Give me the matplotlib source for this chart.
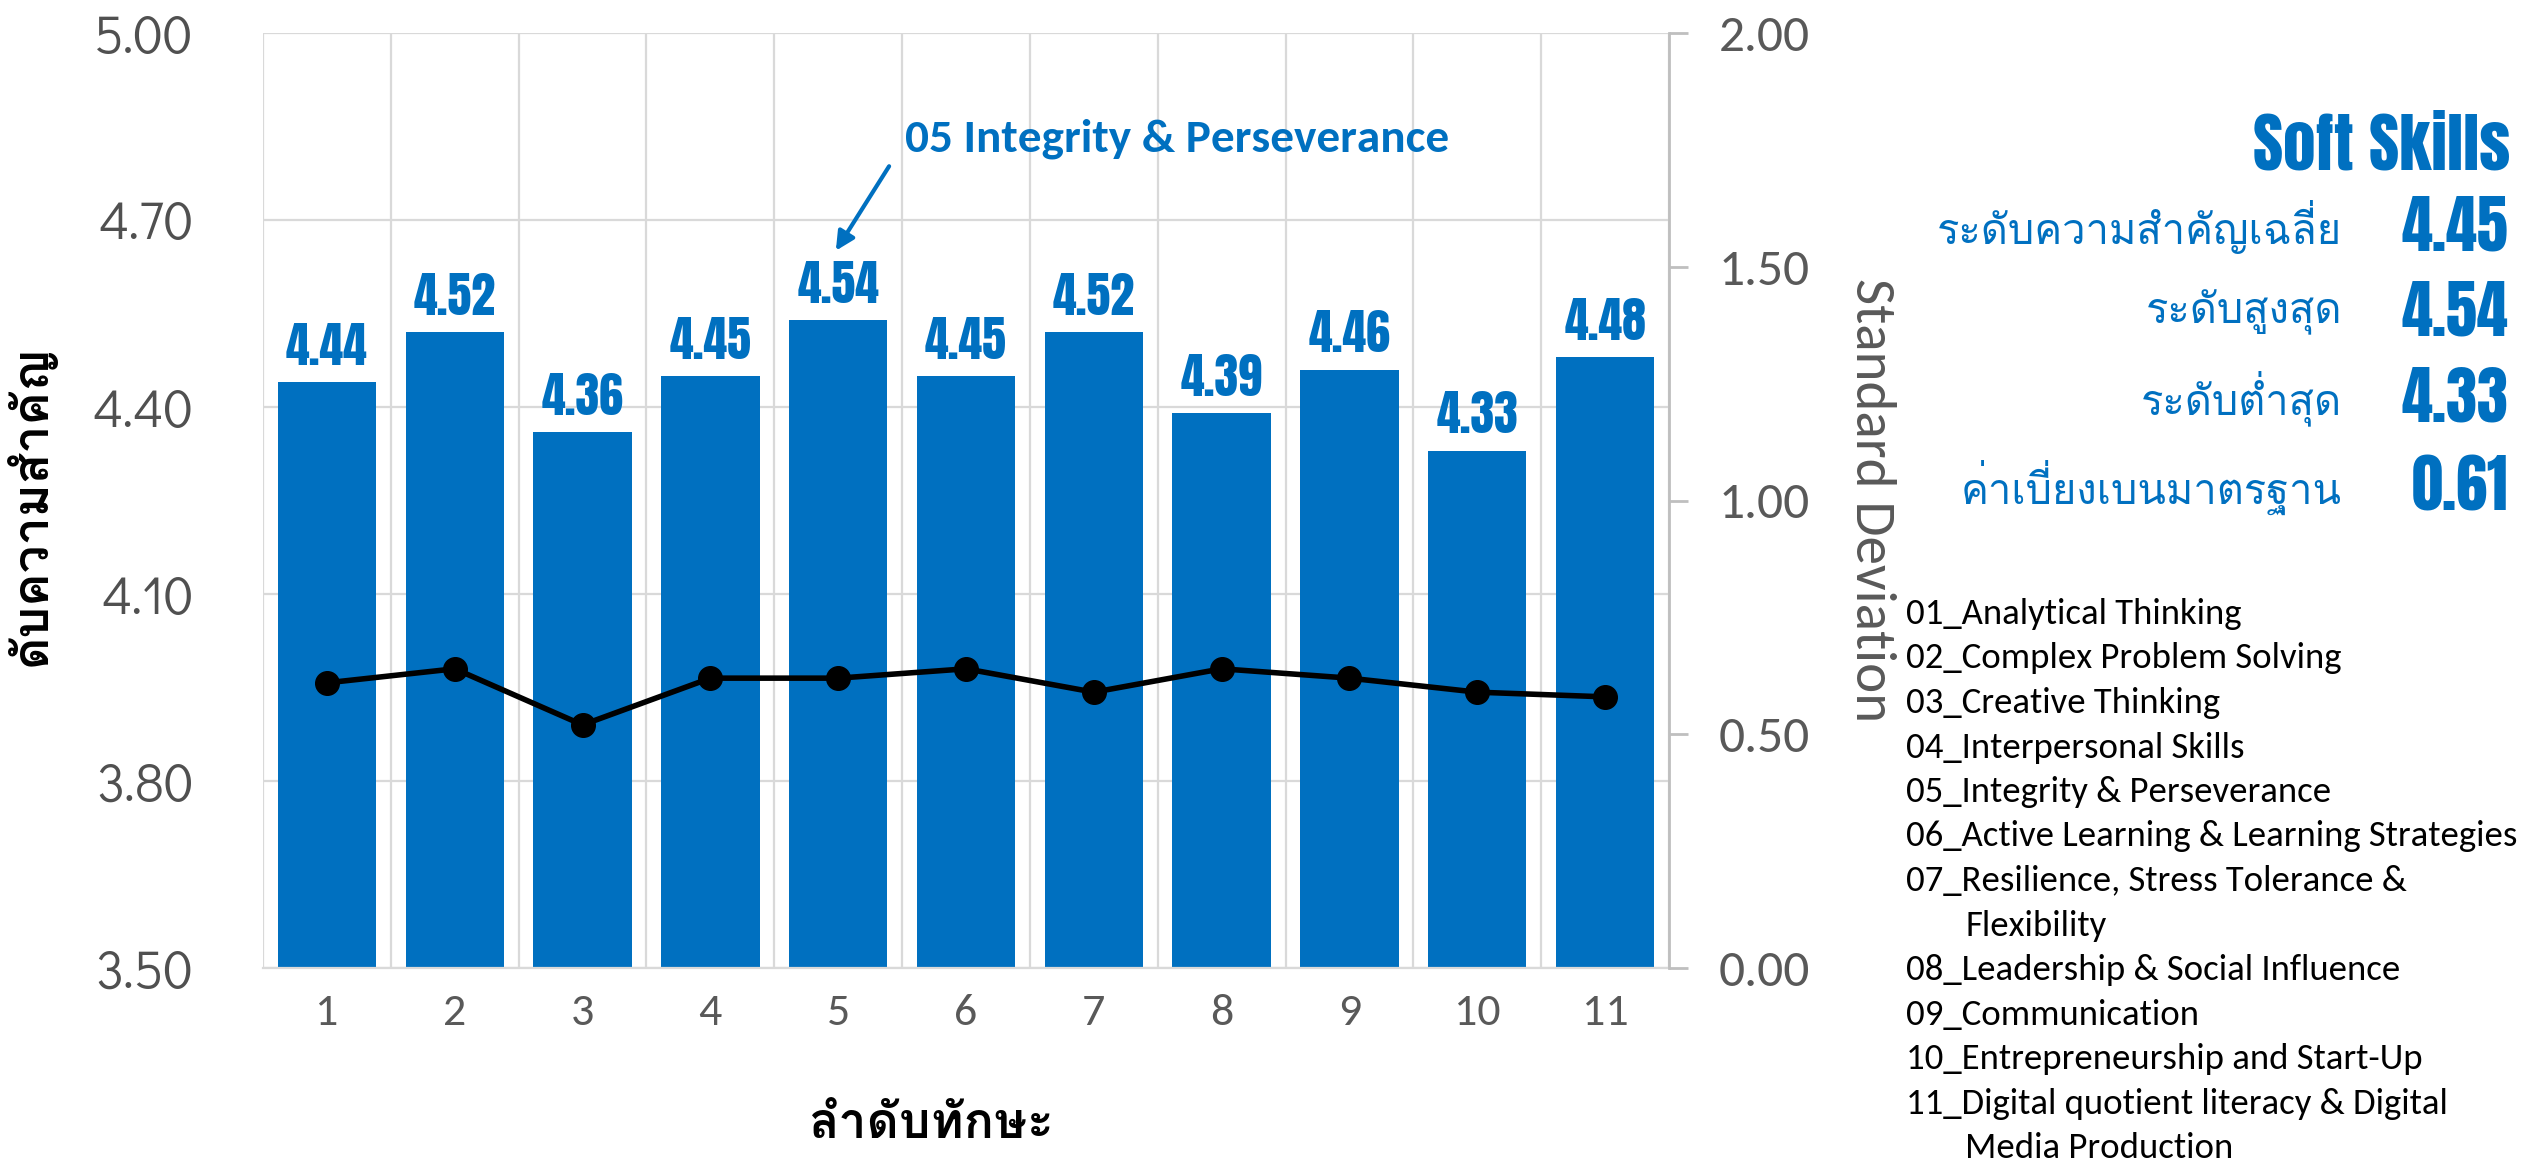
import matplotlib
matplotlib.use("Agg")
import matplotlib.pyplot as plt
from matplotlib import font_manager as fm

skill_no = ["1", "2", "3", "4", "5", "6", "7", "8", "9", "10", "11"]
importance = [4.44, 4.52, 4.36, 4.45, 4.54, 4.45, 4.52, 4.39, 4.46, 4.33, 4.48]
std_dev = [0.61, 0.64, 0.52, 0.62, 0.62, 0.64, 0.59, 0.64, 0.62, 0.59, 0.58]

skill_names = [
    "01_Analytical Thinking",
    "02_Complex Problem Solving",
    "03_Creative Thinking",
    "04_Interpersonal Skills",
    "05_Integrity & Perseverance",
    "06_Active Learning & Learning Strategies",
    "07_Resilience, Stress Tolerance &\nFlexibility",
    "08_Leadership & Social Influence",
    "09_Communication",
    "10_Entrepreneurship and Start-Up",
    "11_Digital quotient literacy & Digital\nMedia Production",
]

stat_labels = ["ระดับความสำคัญเฉลี่ย", "ระดับสูงสุด", "ระดับต่ำสุด", "ค่าเบี่ยงเบนมาตรฐาน"]
stat_values = ["4.45", "4.54", "4.33", "0.61"]
panel_title = "Soft Skills"
highlight_text = "05 Integrity & Perseverance"

BLUE = "#0070C0"
GREY = "#595959"
GRID = "#D9D9D9"
AXIS = "#BFBFBF"

installed = set(f.name for f in fm.fontManager.ttflist)


def pick(*cands):
    for c in cands:
        if c in installed:
            return c
    return "DejaVu Sans"


# Loma puts tone marks high by default, so stacked marks survive without shaping
thai = pick("Loma", "Noto Sans Thai Looped", "Noto Sans Thai")
heavy = pick("Anton", "Oswald", "Roboto Condensed")
calibri = pick("Carlito", "Lato", "Open Sans")
gothic = pick("Didact Gothic", "Questrial", "DejaVu Sans")

W, H = 2529, 1164
fig = plt.figure(figsize=(W / 100, H / 100), dpi=100)
ax = fig.add_axes([263 / W, 1 - 968 / H, (1669 - 263) / W, (968 - 33) / H])
x = list(range(len(skill_no)))

ax.bar(x, [v - 3.5 for v in importance], bottom=3.5, width=0.77, color=BLUE, zorder=2)
for xi, v in zip(x, importance):
    ax.text(xi, v + 0.018, f"{v:.2f}", ha="center", va="bottom", color=BLUE,
            fontsize=34.5, family=heavy, zorder=3)

yt = [3.5, 3.8, 4.1, 4.4, 4.7, 5.0]
ax.set_xlim(-0.5, len(x) - 0.5)
ax.set_ylim(3.5, 5.0)
ax.set_yticks(yt)
ax.set_yticklabels([f"{t:.2f}" for t in yt], family=gothic, fontsize=38, color="#505050")
ax.set_xticks(x)
ax.set_xticklabels(skill_no, family=calibri, fontsize=33, color=GREY)
ax.set_xticks([i - 0.5 for i in range(len(x) + 1)], minor=True)
ax.tick_params(axis="y", length=0, pad=50)
ax.tick_params(axis="x", which="both", length=0, pad=19)
ax.grid(axis="y", which="major", color=GRID, lw=1.6)
ax.grid(axis="x", which="minor", color=GRID, lw=1.6)
ax.set_axisbelow(True)
for s in ["top", "left", "right"]:
    ax.spines[s].set_visible(False)
ax.spines["bottom"].set_color(GRID)
ax.spines["bottom"].set_linewidth(1.6)

ax2 = ax.twinx()
ax2.plot(x, std_dev, color="black", lw=4, marker="o", markersize=17, zorder=4)
st = [0, 0.5, 1.0, 1.5, 2.0]
ax2.set_ylim(0, 2.0)
ax2.set_yticks(st)
ax2.set_yticklabels([f"{t:.2f}" for t in st], family=calibri, fontsize=37)
ax2.tick_params(axis="y", direction="out", length=14, width=2, color=AXIS,
                labelcolor=GREY, pad=22)
for s in ["top", "left", "bottom"]:
    ax2.spines[s].set_visible(False)
ax2.spines["right"].set_color(AXIS)
ax2.spines["right"].set_linewidth(2)

# call-out for the top skill
ax.annotate("", xy=(3.97, 4.647), xytext=(4.41, 4.79),
            arrowprops=dict(arrowstyle="-|>", color=BLUE, lw=3, mutation_scale=28))
ax.text(4.52, 4.83, highlight_text, ha="left", va="center", color=BLUE,
        fontsize=34, fontweight="bold", family=calibri)

# axis titles
fig.text(30 / W, 1 - 505 / H, "ดับความสำคัญ", rotation=90, ha="center", va="center",
         fontsize=36, fontweight="bold", family=thai, color="black")
fig.text(932 / W, 1 - 1124 / H, "ลำดับทักษะ", ha="center", va="center",
         fontsize=36, fontweight="bold", family=thai, color="black")
fig.text(1871 / W, 1 - 500 / H, "Standard Deviation", rotation=-90, ha="center", va="center",
         fontsize=41, family=calibri, color=GREY)

# summary panel
fig.text(2510 / W, 1 - 146 / H, panel_title, ha="right", va="center", color=BLUE,
         fontsize=47, family=heavy)
row_y = [227, 312, 398, 487]
for lab, val, yy in zip(stat_labels, stat_values, row_y):
    fig.text(2342 / W, 1 - yy / H, lab, ha="right", va="center", color=BLUE,
             fontsize=30, family=thai)
    fig.text(2508 / W, 1 - yy / H, val, ha="right", va="center", color=BLUE,
             fontsize=45, family=heavy)

# skill list
yy = 614
for name in skill_names:
    for k, part in enumerate(name.split("\n")):
        fig.text((1906 if k == 0 else 1965) / W, 1 - yy / H, part, ha="left", va="center",
                 fontsize=26.5, family=calibri, color="black")
        yy += 44.5

fig.savefig("out.png", dpi=100)
